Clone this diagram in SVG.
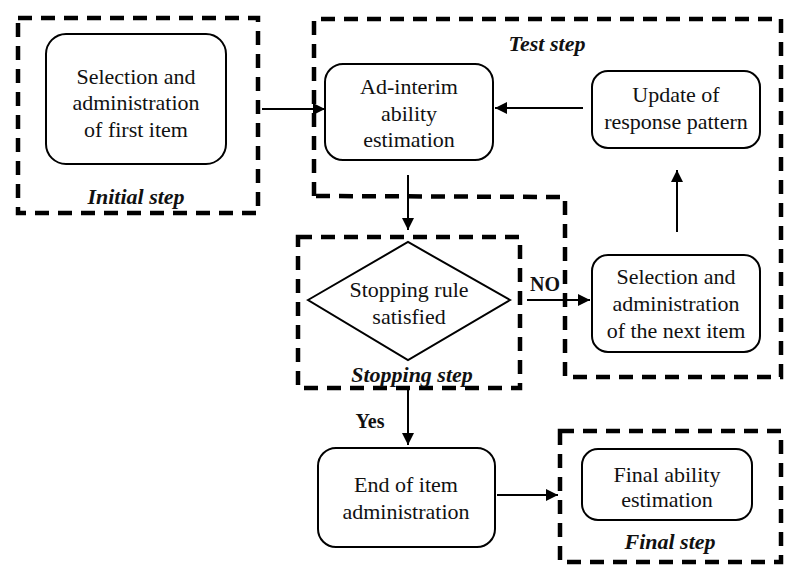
<svg xmlns="http://www.w3.org/2000/svg" width="800" height="579" viewBox="0 0 800 579">
<defs>
<style>
.grp{fill:none;stroke:#000;stroke-width:4.5;stroke-dasharray:14 9}
.nd{fill:#fff;stroke:#000;stroke-width:2}
.t{font-family:"Times New Roman","Liberation Serif",Times,serif;font-weight:normal;font-style:normal;font-size:22px;text-anchor:middle;fill:#111}
.lb{font-family:"Liberation Serif","Times New Roman",serif;font-size:22px;font-weight:bold;font-style:italic;text-anchor:middle;fill:#111}
.b{font-family:"Liberation Serif","Times New Roman",serif;font-size:20px;font-weight:bold;text-anchor:middle;fill:#111}
.c{fill:none;stroke:#000;stroke-width:2;marker-end:url(#ah)}
</style>
<marker id="ah" viewBox="0 0 10 10" refX="10" refY="5" markerWidth="6" markerHeight="6" markerUnits="strokeWidth" orient="auto">
<path d="M0,0 L10,5 L0,10 z" fill="#000"/>
</marker>
</defs>
<rect width="800" height="579" fill="#fff"/>
<g id="groups">
<rect class="grp" x="18" y="18" width="240" height="195"/>
<path class="grp" d="M314,196 L314,19 L781,19 L781,377 L565,377 L565,197 Z"/>
<rect class="grp" x="298" y="237" width="222" height="151"/>
<rect class="grp" x="560" y="431" width="221" height="131"/>
</g>
<g id="connectors">
<line class="c" x1="262" y1="109" x2="325" y2="109"/>
<line class="c" x1="583" y1="108" x2="495" y2="108"/>
<line class="c" x1="408" y1="175" x2="408" y2="230"/>
<line class="c" x1="677" y1="232" x2="677" y2="170"/>
<line class="c" x1="527" y1="300" x2="590" y2="300"/>
<line class="c" x1="408" y1="390" x2="408" y2="445"/>
<line class="c" x1="497" y1="495" x2="558" y2="495"/>
</g>
<g id="initial-node">
<rect class="nd" x="46" y="34" width="180" height="130" rx="20"/>
<text class="t" x="136" y="84">Selection and</text>
<text class="t" x="136" y="110">administration</text>
<text class="t" x="136" y="137">of first item</text>
</g>
<g id="initial-label"><text class="lb" x="136" y="204">Initial step</text></g>
<g id="test-label"><text class="lb" x="547" y="51">Test step</text></g>
<g id="adinterim-node">
<rect class="nd" x="325" y="64" width="168" height="96" rx="18"/>
<text class="t" x="409" y="94">Ad-interim</text>
<text class="t" x="409" y="121">ability</text>
<text class="t" x="409" y="147">estimation</text>
</g>
<g id="update-node">
<rect class="nd" x="592" y="71" width="168" height="77" rx="16"/>
<text class="t" x="676" y="102">Update of</text>
<text class="t" x="676" y="129">response pattern</text>
</g>
<g id="stopping-node">
<polygon class="nd" points="308,300 408,242 510,300 408,360"/>
<text class="t" x="409" y="297">Stopping rule</text>
<text class="t" x="409" y="324">satisfied</text>
</g>
<g id="stopping-label"><text class="lb" x="412" y="382">Stopping step</text></g>
<g id="no-label"><text class="b" x="545" y="291">NO</text></g>
<g id="next-node">
<rect class="nd" x="592" y="255" width="168" height="97" rx="16"/>
<text class="t" x="676" y="284">Selection and</text>
<text class="t" x="676" y="311">administration</text>
<text class="t" x="676" y="338">of the next item</text>
</g>
<g id="yes-label"><text class="b" x="370" y="428">Yes</text></g>
<g id="end-node">
<rect class="nd" x="318" y="448" width="177" height="99" rx="18"/>
<text class="t" x="406" y="492">End of item</text>
<text class="t" x="406" y="519">administration</text>
</g>
<g id="final-node">
<rect class="nd" x="582" y="449" width="170" height="71" rx="16"/>
<text class="t" x="667" y="482">Final ability</text>
<text class="t" x="667" y="507">estimation</text>
</g>
<g id="final-label"><text class="lb" x="670" y="549">Final step</text></g>
</svg>
